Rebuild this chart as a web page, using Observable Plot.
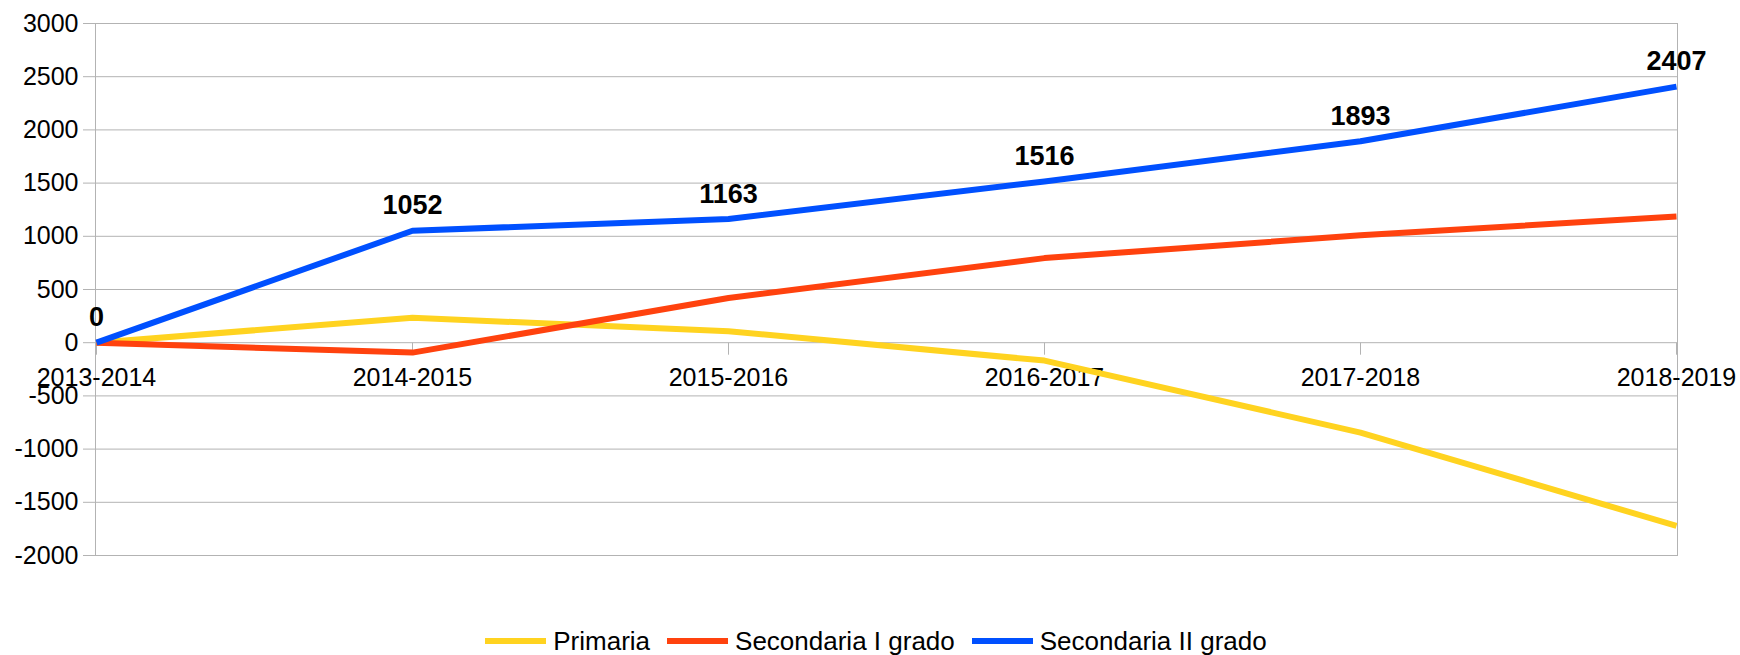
<!DOCTYPE html>
<html>
<head>
<meta charset="utf-8">
<script src="https://cdn.jsdelivr.net/npm/d3@7"></script>
<script src="https://cdn.jsdelivr.net/npm/@observablehq/plot@0.6"></script>
<style>
  html, body { margin: 0; padding: 0; background: #fff; }
  body { width: 1740px; height: 655px; overflow: hidden; font-family: "Liberation Sans", Arial, sans-serif; }
  #legend { height: 43px; padding-top: 15px; padding-left: 12px; box-sizing: border-box; display: flex; justify-content: center; align-items: center; font-size: 26px; color: #000; }
  .item { display: flex; align-items: center; margin: 0 8.5px; }
  .sw { width: 61px; height: 6px; margin-right: 7px; }
</style>
</head>
<body>
<div id="chart"></div>
<div id="legend"></div>
<script>
const years = ["2013-2014", "2014-2015", "2015-2016", "2016-2017", "2017-2018", "2018-2019"];
const seriesNames = ["Primaria", "Secondaria I grado", "Secondaria II grado"];
const seriesColors = ["#ffd320", "#ff420e", "#0050ff"];
const primaria = [0, 234, 108, -168, -845, -1722];
const secondariaI = [0, -93, 420, 795, 1010, 1185];
const secondariaII = [0, 1052, 1163, 1516, 1893, 2407];
const yTicks = [-2000, -1500, -1000, -500, 0, 500, 1000, 1500, 2000, 2500, 3000];

const seriesValues = [primaria, secondariaI, secondariaII];
const rows = [];
seriesNames.forEach((s, si) => years.forEach((y, i) => rows.push({series: s, year: y, value: seriesValues[si][i]})));
const blueRows = rows.filter(d => d.series === "Secondaria II grado");
const base = years.map(y => ({year: y, value: 0}));

const grey = "#b3b3b3";
const tickSymbol = {draw(ctx) { ctx.moveTo(0, 0); ctx.lineTo(0, 12); }};

const chart = Plot.plot({
  width: 1740,
  height: 612,
  marginTop: 23,
  marginBottom: 57,
  marginLeft: 95,
  marginRight: 63,
  style: {fontFamily: "Liberation Sans, Arial, sans-serif", fontSize: "25px", background: "#fff", color: "#000"},
  x: {type: "point", domain: years, padding: 0, axis: null},
  y: {domain: [-2000, 3000]},
  color: {domain: seriesNames, range: seriesColors},
  marks: [
    Plot.gridY(yTicks, {stroke: grey, strokeOpacity: 1, strokeWidth: 1}),
    Plot.frame({stroke: grey, strokeWidth: 1}),
    Plot.axisY(yTicks, {tickSize: 12, tickPadding: 5, stroke: grey, fill: "#000", fontSize: 25, label: null, tickFormat: d => String(d)}),
    Plot.dot(base, {x: "year", y: "value", symbol: tickSymbol, fill: "none", stroke: grey, strokeWidth: 1}),
    Plot.text(base, {x: "year", y: "value", text: "year", dy: 35, fontSize: 25, fill: "#000"}),
    Plot.line(rows, {x: "year", y: "value", z: "series", stroke: "series", strokeWidth: 6, strokeLinejoin: "round", strokeLinecap: "butt"}),
    Plot.text(blueRows, {x: "year", y: "value", text: d => String(d.value), dy: -25, fontSize: 27, fontWeight: "bold", fill: "#000"})
  ]
});
document.getElementById("chart").appendChild(chart);

const legend = document.getElementById("legend");
seriesNames.forEach((s, i) => {
  const item = document.createElement("div");
  item.className = "item";
  const sw = document.createElement("div");
  sw.className = "sw";
  sw.style.background = seriesColors[i];
  const t = document.createElement("span");
  t.textContent = s;
  item.appendChild(sw);
  item.appendChild(t);
  legend.appendChild(item);
});
</script>
</body>
</html>
